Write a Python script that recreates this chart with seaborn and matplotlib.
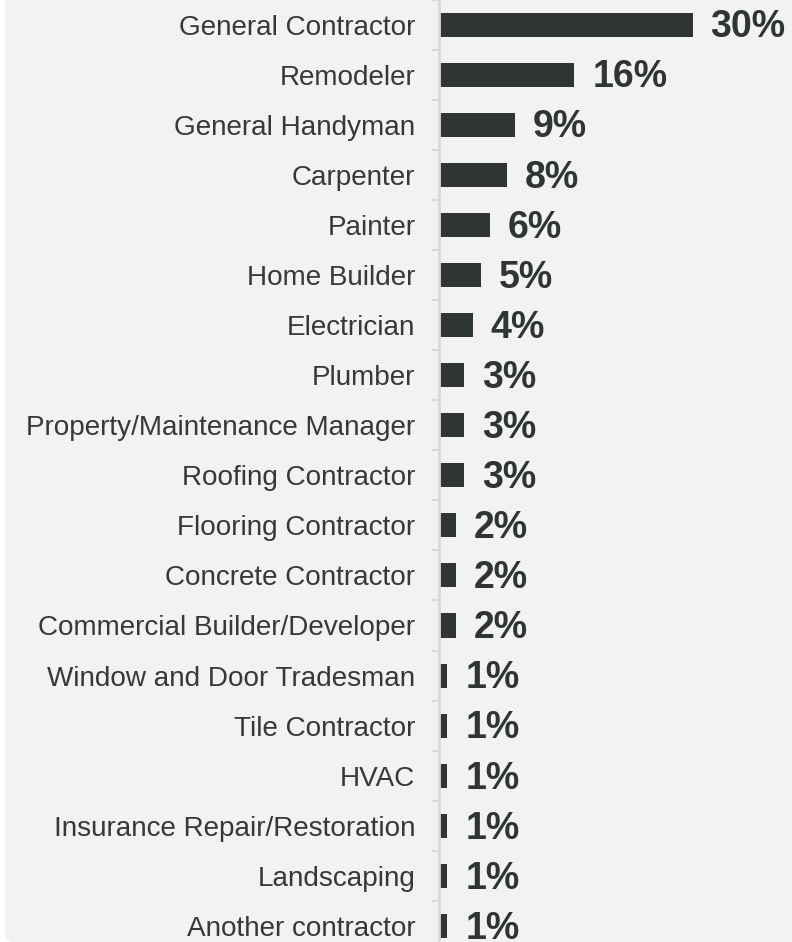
import matplotlib
matplotlib.use("Agg")
import matplotlib.pyplot as plt
from matplotlib.patches import FancyBboxPatch
from matplotlib.transforms import IdentityTransform
import pandas as pd
import seaborn as sns

categories = [
    "General Contractor", "Remodeler", "General Handyman", "Carpenter",
    "Painter", "Home Builder", "Electrician", "Plumber",
    "Property/Maintenance Manager", "Roofing Contractor", "Flooring Contractor",
    "Concrete Contractor", "Commercial Builder/Developer",
    "Window and Door Tradesman", "Tile Contractor", "HVAC",
    "Insurance Repair/Restoration", "Landscaping", "Another contractor",
]
shares = [30, 16, 9, 8, 6, 5, 4, 3, 3, 3, 2, 2, 2, 1, 1, 1, 1, 1, 1]

BAR = "#2e3534"
TEXT = "#383838"
PANEL = "#f2f2f2"

sns.set_theme(style="white")
plt.rcParams["font.family"] = ["Liberation Sans", "DejaVu Sans"]

W, H, DPI = 792, 942, 100
fig = plt.figure(figsize=(W / DPI, H / DPI), dpi=DPI, facecolor="white")

# light panel behind the chart with rounded corners
panel = FancyBboxPatch((5, -1), 820, 990, boxstyle="round,pad=0,rounding_size=12",
                       transform=IdentityTransform(), facecolor=PANEL,
                       edgecolor="none", zorder=-10)
fig.patches.append(panel)

x0, px_per_unit = 439, 8.45
xmax = 35
top_px, bottom_px = -0.5, 951
ax = fig.add_axes([x0 / W, 1 - bottom_px / H, xmax * px_per_unit / W,
                   (bottom_px - top_px) / H])
ax.set_zorder(5)
ax.set_facecolor("none")

df = pd.DataFrame({"category": categories, "share": shares})
sns.barplot(data=df, x="share", y="category", orient="h", color=BAR,
            width=0.48, saturation=1, linewidth=0, ax=ax)

ax.set_xlim(0, xmax)
ax.set_ylim(len(categories) - 0.5, -0.5)
ax.set_xlabel("")
ax.set_ylabel("")
ax.set_xticks([])

for s in ["top", "right", "bottom"]:
    ax.spines[s].set_visible(False)
ax.spines["left"].set_color("#d9d9d9")
ax.spines["left"].set_linewidth(2)

ax.tick_params(axis="y", which="major", length=0, pad=17, labelsize=20.1,
               labelcolor=TEXT)
ax.set_yticks(range(len(categories)), minor=False)
ax.set_yticks([i - 0.5 for i in range(len(categories) + 1)], minor=True)
ax.tick_params(axis="y", which="minor", length=5, width=1.5, color="#d9d9d9",
               left=True)

for i, v in enumerate(shares):
    ax.annotate(f"{v}%", xy=(v, i), xytext=(13, -2), textcoords="offset points",
                ha="left", va="center", fontsize=27, fontweight="bold",
                color=BAR, annotation_clip=False)

fig.savefig("out.png", dpi=DPI, facecolor="white")
